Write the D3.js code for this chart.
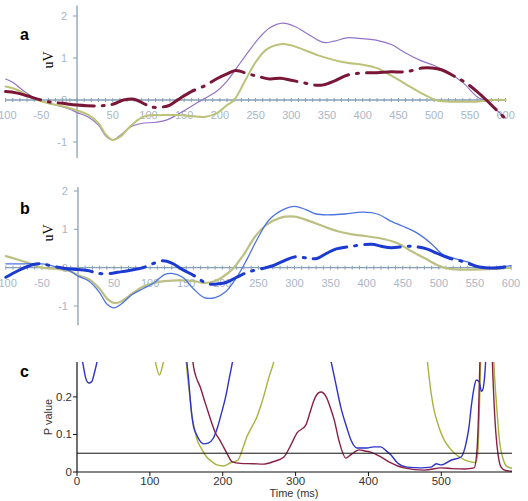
<!DOCTYPE html>
<html>
<head>
<meta charset="utf-8">
<script src="https://cdn.jsdelivr.net/npm/d3@7"></script>
<style>
    body { margin: 0; background: #ffffff; }
    svg { display: block; }
</style>
</head>
<body>
<script>
// ---- data (time in ms, amplitude in uV / p value) ----
const erpTimeLabels = [-100, -50, 0, 50, 100, 150, 200, 250, 300, 350, 400, 450, 500, 550, 600];
const erpAmpTicks = [-1, 0, 1, 2];
const pTimeTicks = [0, 100, 200, 300, 400, 500];
const pValueTicks = [0, 0.1, 0.2];
const pThreshold = 0.05;

// panel a
const purpleA = [[-100, 0.5], [-90, 0.42], [-75, 0.22], [-60, 0.05], [-50, -0.02], [-30, -0.12], [-10, -0.22], [0, -0.3],
    [15, -0.4], [30, -0.6], [40, -0.85], [50, -0.95], [60, -0.85], [75, -0.64], [90, -0.56], [110, -0.53], [125, -0.48],
    [140, -0.35], [155, -0.2], [175, 0], [195, 0.2], [210, 0.45], [225, 0.8], [240, 1.15], [255, 1.48], [270, 1.72],
    [288, 1.83], [305, 1.75], [325, 1.55], [345, 1.37], [360, 1.4], [378, 1.48], [400, 1.46], [420, 1.42], [440, 1.32],
    [460, 1.12], [480, 0.95], [500, 0.82], [520, 0.65], [540, 0.42], [560, 0.08], [575, -0.05], [590, -0.28], [600, -0.42]];
const oliveA = [[-100, 0.32], [-85, 0.25], [-70, 0.12], [-55, 0.0], [-40, -0.08], [-20, -0.15], [0, -0.25], [15, -0.35],
    [30, -0.55], [40, -0.82], [50, -0.95], [60, -0.88], [75, -0.62], [90, -0.42], [100, -0.37], [120, -0.36], [140, -0.36],
    [160, -0.38], [180, -0.4], [195, -0.32], [210, -0.12], [220, 0], [235, 0.45], [250, 0.9], [265, 1.2], [285, 1.33],
    [300, 1.3], [320, 1.18], [340, 1.05], [360, 0.95], [380, 0.88], [400, 0.84], [420, 0.76], [440, 0.58], [460, 0.38],
    [480, 0.18], [495, 0.05], [505, -0.02], [530, -0.04], [560, -0.04], [580, 0], [600, 0]];
const maroonA = [[-100, 0.2], [-85, 0.17], [-70, 0.1], [-55, 0.02], [-40, -0.04], [-20, -0.08], [0, -0.12], [30, -0.14],
    [50, -0.1], [65, 0], [80, 0.02], [95, -0.1], [105, -0.17], [118, -0.17], [130, -0.12], [145, 0.05], [160, 0.2],
    [180, 0.35], [195, 0.5], [210, 0.62], [222, 0.7], [240, 0.62], [256, 0.55], [270, 0.5], [285, 0.52], [300, 0.47],
    [320, 0.4], [335, 0.35], [345, 0.36], [360, 0.45], [380, 0.6], [410, 0.65], [420, 0.65], [440, 0.67], [460, 0.67],
    [483, 0.76], [497, 0.76], [510, 0.72], [530, 0.55], [545, 0.4], [560, 0.2], [573, 0], [585, -0.2], [600, -0.45]];

// panel b
const blueB = [[-100, 0.1], [-75, 0.1], [-50, 0.1], [-30, 0.02], [-10, -0.1], [0, -0.22], [15, -0.35], [30, -0.65],
    [40, -0.95], [50, -1.05], [60, -0.95], [75, -0.7], [90, -0.55], [105, -0.4], [120, -0.18], [130, -0.15], [145, -0.25],
    [160, -0.55], [175, -0.78], [190, -0.78], [205, -0.62], [220, -0.25], [235, 0.25], [250, 0.8], [265, 1.25],
    [285, 1.52], [300, 1.6], [315, 1.52], [330, 1.4], [350, 1.38], [370, 1.4], [395, 1.45], [415, 1.4], [435, 1.2],
    [450, 1.08], [470, 0.9], [490, 0.62], [505, 0.35], [520, 0.25], [540, 0.15], [555, 0.03], [570, 0.0], [585, 0.03],
    [600, 0.05]];
const oliveB = [[-100, 0.3], [-85, 0.22], [-65, 0.1], [-50, 0.0], [-30, -0.03], [-10, -0.1], [0, -0.2], [15, -0.3],
    [30, -0.55], [40, -0.8], [50, -0.92], [60, -0.88], [75, -0.68], [90, -0.5], [105, -0.4], [120, -0.35], [140, -0.33],
    [160, -0.35], [175, -0.4], [190, -0.35], [200, -0.25], [215, -0.02], [230, 0.35], [245, 0.8], [260, 1.1],
    [280, 1.3], [300, 1.33], [320, 1.22], [340, 1.08], [360, 0.95], [380, 0.87], [400, 0.82], [425, 0.74], [445, 0.62],
    [460, 0.45], [480, 0.25], [500, 0.05], [515, -0.03], [540, -0.05], [570, -0.04], [600, 0]];
const navyB = [[-100, -0.25], [-85, -0.1], [-70, 0.03], [-55, 0.1], [-45, 0.08], [-30, 0.02], [-15, -0.03], [0, -0.05],
    [15, -0.08], [28, -0.15], [45, -0.15], [55, -0.12], [75, -0.06], [90, 0.0], [103, 0.1], [118, 0.18], [130, 0.12],
    [145, -0.05], [160, -0.2], [180, -0.42], [195, -0.42], [206, -0.38], [220, -0.25], [235, -0.12], [256, -0.02],
    [270, 0.05], [282, 0.15], [300, 0.28], [318, 0.25], [331, 0.24], [345, 0.38], [358, 0.49], [380, 0.56], [407, 0.61],
    [420, 0.56], [434, 0.52], [460, 0.56], [483, 0.49], [497, 0.38], [514, 0.25], [535, 0.15], [553, 0.03], [565, 0.0],
    [585, 0.0], [600, 0.05]];

// panel c (values above the visible range are clipped)
const bluePC = [[0, 0.4], [4, 0.33], [8, 0.29], [12, 0.25], [16, 0.237], [20, 0.24], [24, 0.265], [28, 0.3], [32, 0.36],
    [60, 0.6], [120, 0.6], [148, 0.34], [153, 0.25], [157, 0.16], [160, 0.12], [164, 0.1], [168, 0.085], [174, 0.075],
    [180, 0.077], [187, 0.09], [193, 0.12], [198, 0.155], [204, 0.2], [209, 0.25], [214, 0.3], [220, 0.38], [260, 0.6],
    [330, 0.6], [343, 0.34], [348, 0.3], [355, 0.237], [362, 0.173], [370, 0.12], [376, 0.085], [384, 0.064],
    [398, 0.064], [407, 0.067], [417, 0.067], [424, 0.057], [431, 0.045], [440, 0.024], [453, 0.013], [472, 0.011],
    [486, 0.013], [493, 0.022], [500, 0.019], [514, 0.032], [527, 0.04], [531, 0.055], [534, 0.077], [538, 0.12],
    [541, 0.173], [545, 0.225], [548, 0.245], [552, 0.24], [555, 0.215], [557, 0.22], [559, 0.245], [561, 0.3],
    [563, 0.4], [570, 0.6], [597, 0.6]];
const maroonPC = [[0, 0.6], [150, 0.6], [157, 0.33], [160, 0.28], [164, 0.25], [169, 0.227], [175, 0.19], [180, 0.16],
    [185, 0.13], [190, 0.104], [196, 0.085], [201, 0.067], [207, 0.045], [213, 0.027], [224, 0.023], [242, 0.022],
    [256, 0.021], [270, 0.028], [284, 0.04], [293, 0.07], [302, 0.104], [314, 0.125], [320, 0.16], [325, 0.19],
    [331, 0.21], [335, 0.213], [342, 0.2], [348, 0.17], [353, 0.139], [360, 0.08], [369, 0.037], [375, 0.045],
    [380, 0.052], [387, 0.059], [395, 0.056], [403, 0.053], [417, 0.04], [431, 0.024], [440, 0.016], [449, 0.011],
    [477, 0.005], [500, 0.011], [515, 0.009], [532, 0.008], [545, 0.011], [549, 0.06], [551, 0.15], [553, 0.3],
    [555, 0.45], [568, 0.45], [570, 0.3], [572, 0.2], [575, 0.1], [578, 0.045], [582, 0.013], [588, 0.004], [597, 0.002]];
const olivePC = [[0, 0.6], [100, 0.45], [104, 0.33], [108, 0.29], [113, 0.258], [117, 0.28], [120, 0.31], [124, 0.4],
    [140, 0.6], [148, 0.34], [152, 0.25], [155, 0.2], [158, 0.147], [162, 0.11], [165, 0.085], [170, 0.065], [178, 0.04],
    [185, 0.028], [192, 0.019], [201, 0.016], [210, 0.024], [221, 0.032], [227, 0.06], [233, 0.093], [240, 0.12],
    [247, 0.147], [252, 0.175], [256, 0.2], [263, 0.25], [270, 0.293], [276, 0.35], [300, 0.6], [460, 0.6], [478, 0.35],
    [481, 0.293], [486, 0.21], [490, 0.165], [495, 0.13], [504, 0.085], [511, 0.065], [518, 0.05], [525, 0.04],
    [532, 0.032], [540, 0.027], [547, 0.025], [550, 0.05], [552, 0.15], [554, 0.3], [556, 0.45], [570, 0.45],
    [572, 0.3], [575, 0.2], [577, 0.147], [580, 0.08], [584, 0.04], [590, 0.015], [597, 0.01]];

const svgWidth = 528;
const svgHeight = 501;

const svg = d3.select('body')
    .append('svg')
    .attr('width', svgWidth)
    .attr('height', svgHeight);

// panel a and b share the same look
drawErpPanel({
    letter: 'a', letterY: 40, labelY: 60,
    xRange: [5.6, 505.6], yRange: [142, 16], yExtent: [-1.38, 2.25],
    series: [
        {data: purpleA, color: '#9273c9', width: 1.2},
        {data: oliveA, color: '#bcc277', width: 2},
        {data: maroonA, color: '#7a1636', width: 3, dash: '36,8,2,8'}
    ]
});

drawErpPanel({
    letter: 'b', letterY: 214, labelY: 233,
    xRange: [5.8, 511], yRange: [306, 191], yExtent: [-1.5, 2.1],
    series: [
        {data: oliveB, color: '#bcc082', width: 2.2},
        {data: blueB, color: '#4d74e0', width: 1.3},
        {data: navyB, color: '#1c3ad0', width: 3, dash: '36,8,2,8'}
    ]
});

drawPPanel();

/*
 * Draws one ERP panel (amplitude over time) with a light blue cross axis.
 */
function drawErpPanel(cfg)
{
    const x = d3.scaleLinear().domain([-100, 600]).range(cfg.xRange);
    const y = d3.scaleLinear().domain([-1, 2]).range(cfg.yRange);
    const axisColor = '#86a0b8';
    const labelColor = '#a9b6c6';
    const g = svg.append('g');
    const y0 = y(0);

    // y axis
    g.append('line')
        .attr('x1', x(0)).attr('x2', x(0))
        .attr('y1', y(cfg.yExtent[1])).attr('y2', y(cfg.yExtent[0]))
        .attr('stroke', axisColor).attr('stroke-width', 1.3);

    g.selectAll('.ytick')
        .data(erpAmpTicks)
        .enter()
        .append('line')
        .attr('x1', x(0) - 4).attr('x2', x(0))
        .attr('y1', d => y(d)).attr('y2', d => y(d))
        .attr('stroke', axisColor);

    g.selectAll('.ylabel')
        .data(erpAmpTicks)
        .enter()
        .append('text')
        .attr('x', x(0) - 10)
        .attr('y', d => y(d))
        .attr('dy', '0.35em')
        .attr('text-anchor', 'end')
        .attr('font-family', 'Liberation Sans, Arial, sans-serif')
        .attr('font-size', 11)
        .attr('fill', labelColor)
        .text(d => d);

    // x axis through zero with minor ticks every 10 ms
    g.append('line')
        .attr('x1', x(-100)).attr('x2', x(600))
        .attr('y1', y0).attr('y2', y0)
        .attr('stroke', axisColor).attr('stroke-width', 1.3);

    g.selectAll('.xminor')
        .data(d3.range(-100, 601, 10))
        .enter()
        .append('line')
        .attr('x1', d => x(d)).attr('x2', d => x(d))
        .attr('y1', y0 - 2).attr('y2', y0 + 2)
        .attr('stroke', axisColor);

    g.selectAll('.xlabel')
        .data(erpTimeLabels.filter(d => d !== 0))
        .enter()
        .append('text')
        .attr('x', d => x(d))
        .attr('y', y0 + 19)
        .attr('text-anchor', 'middle')
        .attr('font-family', 'Liberation Sans, Arial, sans-serif')
        .attr('font-size', 11)
        .attr('fill', labelColor)
        .text(d => d);

    // waveforms
    const line = d3.line()
        .x(d => x(d[0]))
        .y(d => y(d[1]))
        .curve(d3.curveCatmullRom);

    cfg.series.forEach(s =>
    {
        g.append('path')
            .datum(s.data)
            .attr('d', line)
            .attr('fill', 'none')
            .attr('stroke', s.color)
            .attr('stroke-width', s.width)
            .attr('stroke-linecap', 'round')
            .attr('stroke-dasharray', s.dash || null);
    });

    // panel letter and unit label
    svg.append('text')
        .attr('x', 20).attr('y', cfg.letterY)
        .attr('font-family', 'Liberation Sans, Arial, sans-serif')
        .attr('font-weight', 'bold')
        .attr('font-size', 16)
        .text(cfg.letter);

    svg.append('text')
        .attr('transform', `translate(53, ${cfg.labelY}) rotate(-90)`)
        .attr('text-anchor', 'middle')
        .attr('font-family', 'Liberation Serif, Times New Roman, serif')
        .attr('font-size', 14)
        .text('uV');
}

/*
 * Draws the p value panel with the 0.05 significance line.
 */
function drawPPanel()
{
    const x = d3.scaleLinear().domain([0, 597]).range([77, 512]);
    const y = d3.scaleLinear().domain([0, 0.293]).range([472, 362]);
    const g = svg.append('g');
    const font = 'Liberation Sans, Arial, sans-serif';

    svg.append('clipPath')
        .attr('id', 'p-clip')
        .append('rect')
        .attr('x', x(0)).attr('y', y(0.293))
        .attr('width', x(597) - x(0)).attr('height', y(0) - y(0.293));

    const line = d3.line()
        .x(d => x(d[0]))
        .y(d => y(d[1]))
        .curve(d3.curveMonotoneX);

    const lines = g.append('g').attr('clip-path', 'url(#p-clip)');
    [
        {data: olivePC, color: '#a9b23c'},
        {data: bluePC, color: '#2f32c8'},
        {data: maroonPC, color: '#8a1f45'}
    ].forEach(s =>
    {
        lines.append('path')
            .datum(s.data)
            .attr('d', line)
            .attr('fill', 'none')
            .attr('stroke', s.color)
            .attr('stroke-width', 1.4);
    });

    // significance threshold
    g.append('line')
        .attr('x1', x(0)).attr('x2', x(597))
        .attr('y1', y(pThreshold)).attr('y2', y(pThreshold))
        .attr('stroke', '#111').attr('stroke-width', 1);

    // axes
    g.append('line')
        .attr('x1', x(0)).attr('x2', x(597))
        .attr('y1', y(0)).attr('y2', y(0))
        .attr('stroke', '#111').attr('stroke-width', 1.2);
    g.append('line')
        .attr('x1', x(0)).attr('x2', x(0))
        .attr('y1', y(0.293)).attr('y2', y(0))
        .attr('stroke', '#111').attr('stroke-width', 1.2);

    g.selectAll('.xtick')
        .data(pTimeTicks)
        .enter()
        .append('line')
        .attr('x1', d => x(d)).attr('x2', d => x(d))
        .attr('y1', y(0)).attr('y2', y(0) + 4)
        .attr('stroke', '#111');

    g.selectAll('.xlabel')
        .data(pTimeTicks)
        .enter()
        .append('text')
        .attr('x', d => x(d))
        .attr('y', y(0) + 13)
        .attr('text-anchor', 'middle')
        .attr('font-family', font)
        .attr('font-size', 11.5)
        .attr('fill', '#333')
        .text(d => d);

    g.selectAll('.ytick')
        .data(pValueTicks)
        .enter()
        .append('line')
        .attr('x1', x(0) - 4).attr('x2', x(0))
        .attr('y1', d => y(d)).attr('y2', d => y(d))
        .attr('stroke', '#111');

    g.selectAll('.ylabel')
        .data(pValueTicks)
        .enter()
        .append('text')
        .attr('x', x(0) - 5)
        .attr('y', d => y(d))
        .attr('dy', '0.35em')
        .attr('text-anchor', 'end')
        .attr('font-family', font)
        .attr('font-size', 11.5)
        .attr('fill', '#333')
        .text(d => d);

    g.append('text')
        .attr('x', 294).attr('y', 497)
        .attr('text-anchor', 'middle')
        .attr('font-family', font)
        .attr('font-size', 11)
        .attr('fill', '#333')
        .text('Time (ms)');

    g.append('text')
        .attr('transform', 'translate(52, 417) rotate(-90)')
        .attr('text-anchor', 'middle')
        .attr('font-family', font)
        .attr('font-size', 11)
        .attr('fill', '#333')
        .text('P value');

    svg.append('text')
        .attr('x', 20).attr('y', 377)
        .attr('font-family', font)
        .attr('font-weight', 'bold')
        .attr('font-size', 16)
        .text('c');
}
</script>
</body>
</html>
